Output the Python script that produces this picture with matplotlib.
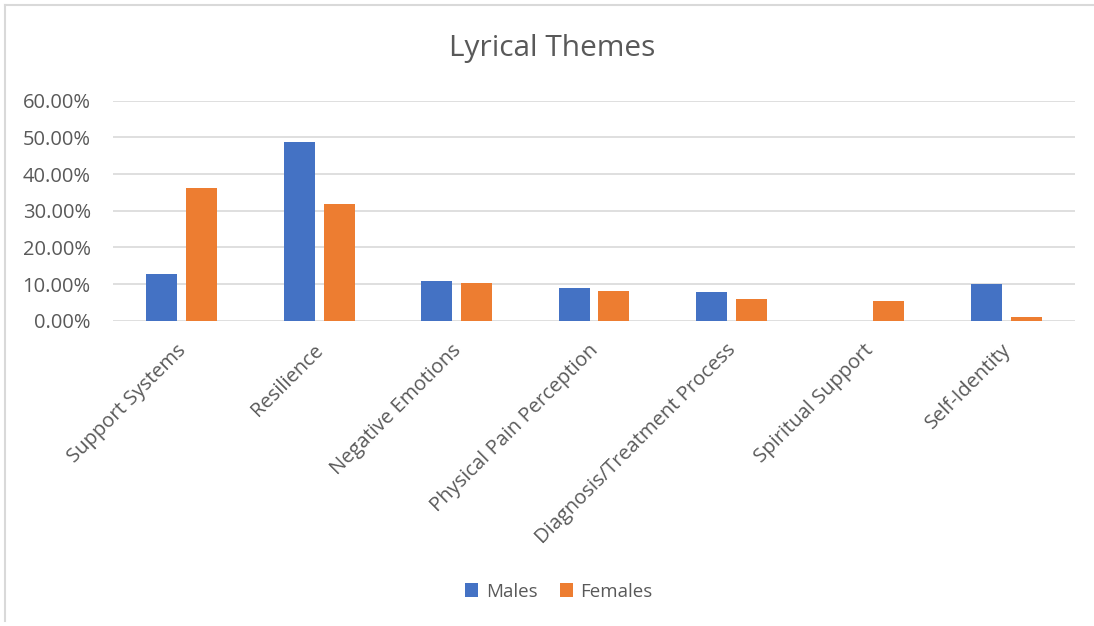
import numpy as np
import matplotlib.pyplot as plt
import matplotlib.transforms as mtransforms
from matplotlib.lines import Line2D

themes = ['Support Systems', 'Resilience', 'Negative Emotions', 'Physical Pain Perception',
          'Diagnosis/Treatment Process', 'Spiritual Support', 'Self-Identity']
males = [0.127, 0.488, 0.109, 0.089, 0.079, 0.0, 0.100]
females = [0.361, 0.317, 0.104, 0.082, 0.060, 0.055, 0.009]
yticks = [0.0, 0.1, 0.2, 0.3, 0.4, 0.5, 0.6]

plt.rcParams['font.family'] = ['Open Sans', 'DejaVu Sans']
grey = '#595959'

fig = plt.figure(figsize=(10.94, 6.26), dpi=100)
ax = fig.add_axes([0.1033, 0.4877, 0.8793, 0.3514])

x = np.arange(len(themes))
w = 0.225
ax.bar(x - 0.145, males, w, color='#4472c4', label='Males', zorder=3)
ax.bar(x + 0.145, females, w, color='#ed7d31', label='Females', zorder=3)

ax.set_xlim(-0.5, len(themes) - 0.5)
ax.set_ylim(0, 0.6)
ax.set_yticks(yticks)
ax.set_yticklabels(['%.2f%%' % (v * 100) for v in yticks], color=grey, fontsize=14.5)
ax.set_xticks(x)
ax.set_xticklabels(themes, rotation=45, ha='right', va='top', rotation_mode='anchor',
                   color=grey, fontsize=14.5)
ax.tick_params(length=0)
ax.tick_params(axis='y', pad=16)
ax.tick_params(axis='x', pad=14)
# nudge category labels a little to the left
shift = mtransforms.ScaledTranslation(-4 / 72, 0, fig.dpi_scale_trans)
for lbl in ax.get_xticklabels():
    lbl.set_transform(lbl.get_transform() + shift)
ax.grid(axis='y', color='#d9d9d9', linewidth=1.2, zorder=0)
for s in ax.spines.values():
    s.set_visible(False)

fig.text(0.505, 0.923, 'Lyrical Themes', ha='center', va='center', fontsize=21.5, color=grey)
fig.legend(loc='center', bbox_to_anchor=(0.511, 0.055), ncol=2, frameon=False,
           fontsize=13.5, labelcolor=grey, handlelength=0.7, handleheight=0.7,
           columnspacing=1.2, handletextpad=0.4)

# thin frame on the top and left edges
fig.add_artist(Line2D([0.005, 0.005], [0.008, 0.992], transform=fig.transFigure, color='#d9d9d9', lw=1.5))
fig.add_artist(Line2D([0.005, 1.0], [0.992, 0.992], transform=fig.transFigure, color='#d9d9d9', lw=1.5))

fig.savefig('out.png', dpi=100)
